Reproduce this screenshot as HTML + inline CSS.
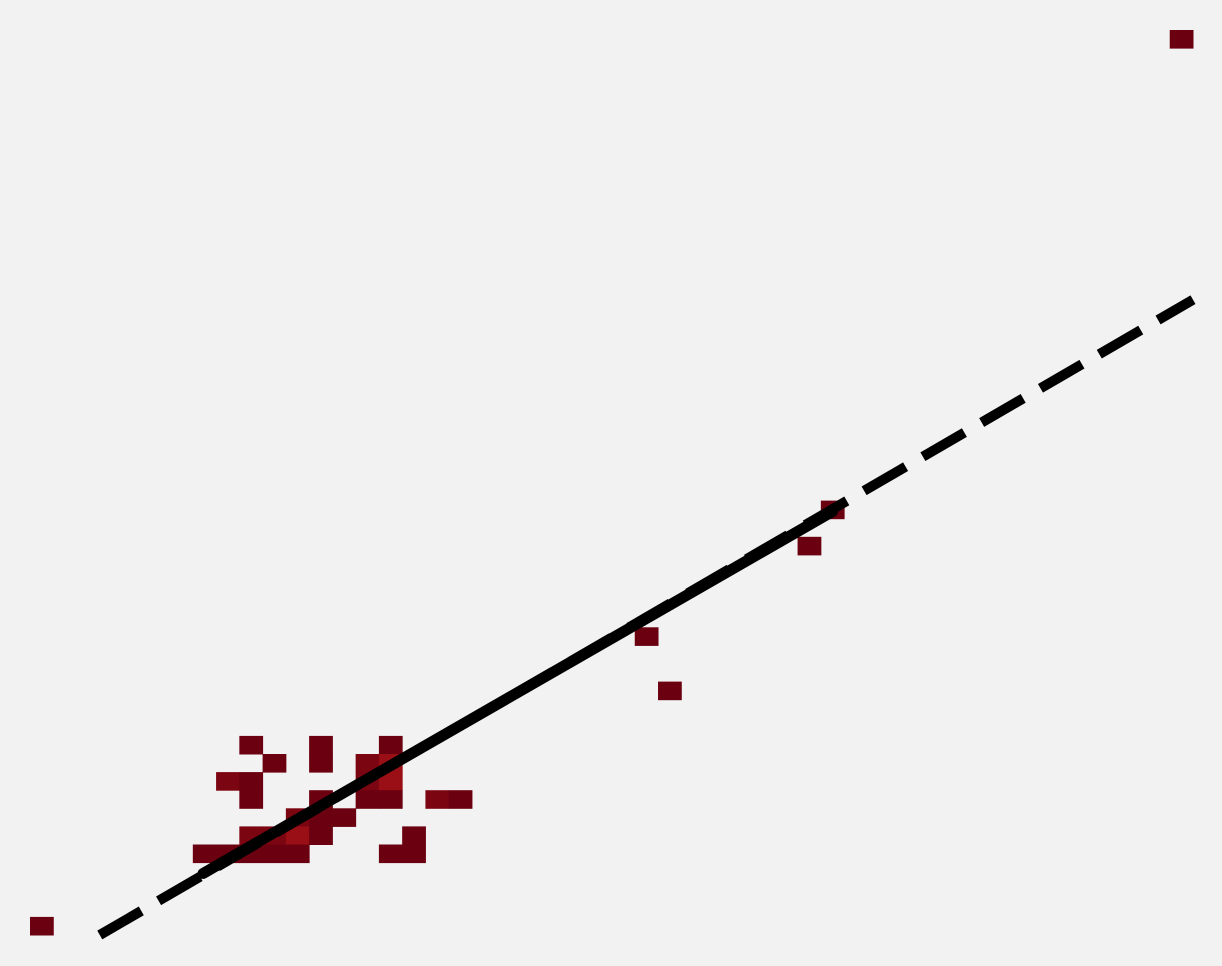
<!DOCTYPE html>
<html><head><meta charset="utf-8"><style>
html,body{margin:0;padding:0;background:#f2f2f2;}
svg{display:block;}
</style></head><body>
<svg id="chart" width="1222" height="966" viewBox="0 0 1222 966" xmlns="http://www.w3.org/2000/svg">
<rect width="1222" height="966" fill="#f2f2f2"/>
<g id="cells"></g>
<g id="lines"></g>
</svg>
<script>
// bin columns, rows and counts of the 2D histogram
const cellCols = [0,49,34,33,26,27, 9,12,15, 10,12,14,15, 8,9,14,15, 9,12,14,15,17,18, 11,12,13, 9,10,11,12,16, 7,8,9,10,11,15,16];
const cellRows = [49,0,26,28,33,36, 39,39,39, 40,40,40,40, 41,41,41,41, 42,42,42,42,42,42, 43,43,43, 44,44,44,44,44, 45,45,45,45,45,45,45];
const cellCounts = [1,1,1,1,1,1, 1,1,1, 1,1,2,3, 2,1,2,3, 1,1,1,1,2,1, 2,1,1, 2,2,3,1,1, 1,1,1,1,1,1,1];
// regression line endpoints in bin coordinates
const fitX = [3.0, 50.0];
const fitY = [50.0, 14.9];
const solidX = [7.44, 34.5];
const solidY = [46.6, 26.6];

const nCols = 50, nRows = 50;
const x0 = 30, x1 = 1193, y0 = 30, y1 = 935;
const cw = (x1 - x0) / nCols, ch = (y1 - y0) / nRows;
function xScale(c){ return x0 + c * cw; }
function yScale(r){ return y0 + r * ch; }
function color(n){ return n >= 3 ? '#9a0f15' : n === 2 ? '#7c0512' : '#6b0010'; }

const NS = 'http://www.w3.org/2000/svg';
const cg = document.getElementById('cells');
for (let i = 0; i < cellCols.length; i++) {
  const r = document.createElementNS(NS, 'rect');
  r.setAttribute('x', xScale(cellCols[i]));
  r.setAttribute('y', yScale(cellRows[i]));
  r.setAttribute('width', cw + 0.5);
  r.setAttribute('height', ch + 0.5);
  r.setAttribute('fill', color(cellCounts[i]));
  
  
  cg.appendChild(r);
}
const lg = document.getElementById('lines');
const dash = document.createElementNS(NS, 'line');
dash.setAttribute('x1', xScale(fitX[0])); dash.setAttribute('y1', yScale(fitY[0]));
dash.setAttribute('x2', xScale(fitX[1])); dash.setAttribute('y2', yScale(fitY[1]));
dash.setAttribute('stroke', '#000'); dash.setAttribute('stroke-width', '10');
dash.setAttribute('stroke-dasharray', '48 20');


lg.appendChild(dash);
const solid = document.createElementNS(NS, 'line');
solid.setAttribute('x1', xScale(solidX[0])); solid.setAttribute('y1', yScale(solidY[0]));
solid.setAttribute('x2', xScale(solidX[1])); solid.setAttribute('y2', yScale(solidY[1]));
solid.setAttribute('stroke', '#000'); solid.setAttribute('stroke-width', '11');
solid.setAttribute('stroke-linecap', 'round');


lg.appendChild(solid);
</script>
</body></html>
